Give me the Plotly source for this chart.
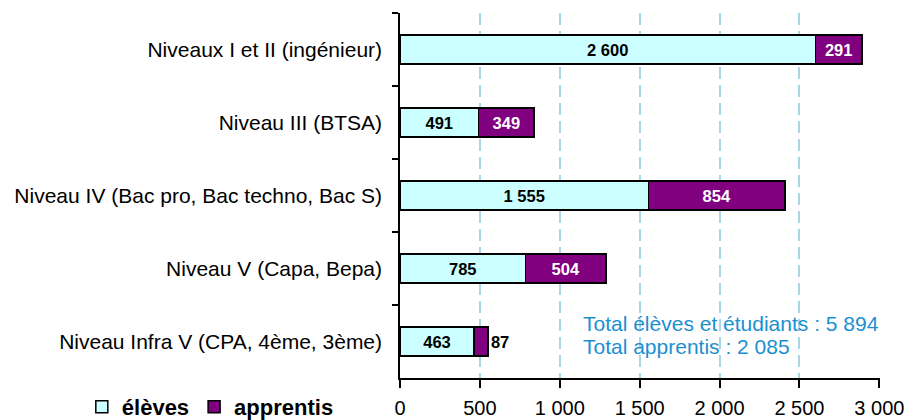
import plotly.graph_objects as go

# Effectifs par niveau de formation
niveaux = [
    "Niveaux I et II (ingénieur)",
    "Niveau III (BTSA)",
    "Niveau IV (Bac pro, Bac techno, Bac S)",
    "Niveau V (Capa, Bepa)",
    "Niveau Infra V (CPA, 4ème, 3ème)",
]
eleves = [2600, 491, 1555, 785, 463]
apprentis = [291, 349, 854, 504, 87]

x_ticks = [0, 500, 1000, 1500, 2000, 2500, 3000]


def fr(n):
    return f"{n:,}".replace(",", " ")


FONT = "Liberation Sans, Arial, sans-serif"
BLUE_TXT = "#1B8FD0"

fig = go.Figure()

fig.add_trace(go.Bar(
    y=niveaux, x=eleves, orientation="h", name="élèves",
    marker=dict(color="#CCFFFF", line=dict(color="black", width=1.5)),
    text=[fr(v) for v in eleves], textposition="inside",
    insidetextanchor="middle", textangle=0, constraintext="none",
    insidetextfont=dict(family=FONT, size=16.5, color="black", weight="bold"),
))

# le petit effectif est étiqueté hors de la barre
pos_app = ["inside" if v > 150 else "outside" for v in apprentis]
fig.add_trace(go.Bar(
    y=niveaux, x=apprentis, orientation="h", name="apprentis",
    marker=dict(color="#800080", line=dict(color="black", width=1.5)),
    text=[fr(v) for v in apprentis], textposition=pos_app,
    insidetextanchor="middle", textangle=0, constraintext="none",
    insidetextfont=dict(family=FONT, size=16.5, color="white", weight="bold"),
    outsidetextfont=dict(family=FONT, size=16.5, color="black", weight="bold"),
    cliponaxis=False,
))

# totaux, sur deux lignes
for txt, shift in [(f"Total élèves et étudiants : {fr(sum(eleves))}", 18),
                   (f"Total apprentis : {fr(sum(apprentis))}", -5)]:
    fig.add_annotation(
        x=1131, y=niveaux[4], xref="x", yref="y", text=txt, showarrow=False,
        xanchor="left", yanchor="middle", align="left", yshift=shift,
        font=dict(family=FONT, size=21, color=BLUE_TXT),
    )

fig.update_layout(
    width=909, height=420,
    margin=dict(l=400, r=29, t=13, b=42, autoexpand=False),
    paper_bgcolor="white", plot_bgcolor="white",
    barmode="stack", bargap=0.6,
    font=dict(family=FONT, size=20, color="black"),
    showlegend=True,
    legend=dict(
        orientation="h", traceorder="normal",
        xref="container", yref="container",
        x=0.09, xanchor="left", y=0.031, yanchor="middle",
        font=dict(family=FONT, size=22, color="black", weight="bold"),
        itemwidth=30, bgcolor="rgba(0,0,0,0)", borderwidth=0,
    ),
)

fig.update_xaxes(
    range=[0, 3004], tickvals=x_ticks, ticktext=[fr(v) for v in x_ticks],
    showline=True, linecolor="black", linewidth=1.5,
    ticks="outside", ticklen=8, tickcolor="black", tickwidth=1.5,
    ticklabelstandoff=3, automargin=False,
    showgrid=True, gridcolor="#A9D6E6", griddash="12px,6px", gridwidth=1.5,
    zeroline=False, tickfont=dict(family=FONT, size=20),
)
fig.update_yaxes(
    autorange="reversed", showline=True, linecolor="black", linewidth=1.5,
    ticks="outside", ticklen=6, tickcolor="black", tickwidth=1.5,
    tickson="boundaries", ticklabelstandoff=12, automargin=False,
    showgrid=False, tickfont=dict(family=FONT, size=21),
)

fig.write_html("out.html")
